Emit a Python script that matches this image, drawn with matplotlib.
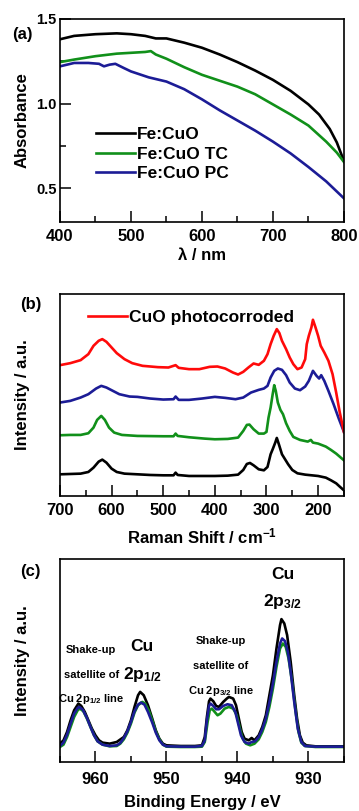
import matplotlib
matplotlib.use("Agg")
import matplotlib.pyplot as plt
from matplotlib.ticker import MultipleLocator, NullLocator

plt.rcParams['font.family'] = ['Liberation Sans', 'DejaVu Sans']
plt.rcParams['font.weight'] = 'bold'
plt.rcParams['axes.labelweight'] = 'bold'
plt.rcParams['mathtext.fontset'] = 'custom'
plt.rcParams['mathtext.rm'] = 'Liberation Sans:bold'
plt.rcParams['mathtext.it'] = 'Liberation Sans:bold'
plt.rcParams['mathtext.bf'] = 'Liberation Sans:bold'

# (a) UV-vis absorbance
wl_black = [400, 420, 450, 480, 500, 520, 535, 550, 575, 600, 625, 650, 675, 700, 725, 750, 765, 780, 790, 800]
abs_black = [1.38, 1.40, 1.41, 1.415, 1.41, 1.40, 1.385, 1.385, 1.36, 1.33, 1.29, 1.245, 1.195, 1.14, 1.075, 0.995, 0.935, 0.85, 0.77, 0.66]
wl_green = [400, 420, 450, 480, 500, 520, 528, 535, 550, 575, 600, 625, 650, 675, 700, 725, 750, 775, 790, 800]
abs_green = [1.245, 1.26, 1.28, 1.295, 1.30, 1.305, 1.31, 1.29, 1.265, 1.215, 1.17, 1.135, 1.10, 1.055, 0.995, 0.935, 0.87, 0.775, 0.71, 0.655]
wl_blue = [400, 420, 440, 455, 462, 470, 478, 490, 500, 525, 550, 575, 600, 625, 650, 675, 700, 725, 750, 775, 800]
abs_blue = [1.22, 1.24, 1.24, 1.235, 1.22, 1.23, 1.235, 1.21, 1.19, 1.155, 1.13, 1.085, 1.025, 0.96, 0.90, 0.84, 0.775, 0.705, 0.625, 0.54, 0.44]

# (b) Raman spectra (offset, arbitrary units)
ram_x_black = [700, 680, 660, 645, 635, 625, 618, 610, 600, 590, 575, 550, 525, 500, 480, 476, 472, 450, 425, 400, 375, 355, 345, 338, 332, 325, 315, 305, 298, 292, 288, 283, 280, 276, 270, 264, 258, 250, 240, 225, 200, 185, 175, 165, 158, 150]
ram_y_black = [65, 66, 67, 72, 85, 103, 109, 100, 82, 72, 67, 65, 63, 62, 62, 70, 63, 60, 60, 60, 61, 64, 78, 96, 99, 92, 80, 77, 87, 125, 140, 160, 174, 155, 125, 110, 95, 78, 68, 64, 60, 55, 47, 38, 28, 17]
ram_x_green = [700, 680, 660, 645, 635, 628, 620, 613, 605, 595, 580, 550, 500, 480, 476, 472, 450, 420, 400, 375, 355, 345, 338, 333, 325, 315, 305, 300, 296, 292, 288, 285, 282, 278, 273, 268, 262, 255, 248, 235, 220, 214, 210, 200, 185, 175, 165, 150]
ram_y_green = [182, 183, 183, 188, 205, 228, 240, 228, 205, 190, 183, 180, 179, 179, 187, 180, 176, 172, 170, 171, 175, 195, 213, 214, 200, 187, 187, 192, 235, 265, 305, 332, 315, 280, 258, 245, 218, 195, 177, 168, 163, 168, 160, 157, 148, 138, 127, 107]
ram_x_blue = [700, 680, 660, 645, 630, 620, 610, 600, 585, 565, 550, 525, 500, 480, 476, 470, 450, 425, 400, 380, 360, 345, 330, 315, 305, 298, 292, 285, 278, 270, 262, 255, 245, 235, 225, 218, 210, 203, 198, 194, 188, 180, 170, 160, 150]
ram_y_blue = [280, 285, 295, 305, 322, 330, 325, 317, 305, 298, 297, 292, 289, 290, 298, 288, 288, 292, 297, 294, 290, 295, 310, 318, 322, 330, 355, 375, 382, 378, 362, 340, 322, 317, 328, 345, 375, 360, 352, 362, 345, 315, 275, 232, 192]
ram_x_red = [700, 680, 660, 645, 635, 625, 618, 610, 600, 590, 575, 560, 540, 510, 490, 476, 470, 450, 430, 410, 395, 380, 365, 355, 345, 335, 325, 315, 305, 298, 292, 286, 280, 275, 270, 262, 255, 248, 240, 232, 225, 222, 218, 213, 210, 205, 200, 195, 188, 180, 172, 165, 158, 150]
ram_y_red = [392, 398, 407, 425, 450, 465, 470, 462, 445, 428, 410, 398, 390, 386, 385, 392, 384, 380, 380, 387, 388, 382, 370, 364, 372, 385, 397, 393, 405, 425, 455, 480, 500, 488, 465, 440, 415, 395, 380, 385, 410, 455, 480, 505, 528, 505, 480, 450, 430, 405, 365, 310, 250, 192]

# (c) XPS Cu 2p
be_black = [965, 964.5, 964, 963.5, 963, 962.4, 962, 961.5, 961, 960.5, 960, 959.5, 959, 958, 957, 956, 955.5, 955, 954.5, 954, 953.7, 953.2, 952.6, 952, 951.5, 951, 950.5, 950, 948, 946, 945, 944.6, 944.3, 944, 943.8, 943.4, 943, 942.6, 942, 941.5, 941.2, 940.6, 940.2, 939.8, 939.4, 939, 938.4, 938, 937.6, 937, 936.5, 936, 935.5, 935, 934.5, 934, 933.8, 933.4, 933, 932.5, 932, 931.6, 931.2, 930.8, 930.3, 929, 927, 925]
int_black = [55, 65, 90, 125, 155, 175, 168, 150, 125, 100, 80, 65, 58, 55, 60, 75, 95, 125, 165, 200, 210, 200, 170, 130, 95, 70, 55, 50, 48, 48, 50, 75, 135, 182, 190, 182, 168, 165, 180, 190, 195, 190, 170, 130, 90, 70, 65, 72, 65, 80, 105, 140, 200, 260, 340, 410, 428, 415, 380, 300, 200, 130, 80, 58, 50, 47, 47, 47]
be_green = [965, 964.5, 964, 963.5, 963, 962.5, 962.2, 961.7, 961.2, 960.7, 960.2, 959.7, 959, 958, 957, 956.5, 956, 955.5, 955, 954.5, 954, 953.4, 953, 952.5, 952, 951.5, 951, 950.5, 950, 948, 946, 945, 944.6, 944.2, 943.9, 943.6, 943.2, 942.8, 942.4, 941.8, 941.2, 940.6, 940.1, 939.7, 939.3, 938.8, 938.2, 937.6, 937, 936.5, 936, 935.5, 935, 934.5, 934, 933.6, 933.2, 932.8, 932.3, 931.8, 931.4, 931, 930.5, 929, 927, 925]
int_green = [45, 52, 75, 105, 135, 155, 160, 152, 130, 105, 80, 62, 52, 47, 48, 55, 68, 88, 115, 148, 170, 180, 175, 155, 125, 92, 68, 52, 46, 45, 45, 46, 60, 120, 155, 160, 150, 140, 145, 160, 165, 160, 140, 105, 72, 55, 50, 55, 68, 90, 120, 165, 220, 285, 340, 355, 345, 310, 240, 150, 90, 58, 48, 45, 45, 45]
be_blue = [965, 964.5, 964, 963.5, 963, 962.5, 962.3, 961.8, 961.2, 960.7, 960.2, 959.7, 959, 958, 957, 956.5, 956, 955.5, 955, 954.5, 954, 953.6, 953.1, 952.6, 952, 951.5, 951, 950.5, 950, 948, 946, 945, 944.6, 944.3, 944, 943.8, 943.4, 943, 942.6, 942, 941.4, 940.8, 940.3, 939.9, 939.5, 939, 938.4, 938, 937.5, 937, 936.5, 936, 935.5, 935, 934.5, 934, 933.7, 933.3, 932.9, 932.5, 932, 931.5, 931, 930.5, 929, 927, 925]
int_blue = [48, 58, 82, 115, 145, 162, 165, 157, 132, 105, 80, 62, 52, 48, 50, 57, 72, 92, 120, 152, 172, 178, 172, 150, 118, 88, 65, 52, 47, 46, 46, 48, 65, 125, 168, 175, 168, 158, 158, 168, 173, 170, 150, 115, 80, 60, 55, 60, 62, 75, 98, 130, 178, 235, 300, 355, 370, 362, 330, 270, 180, 100, 60, 48, 46, 46, 46]

c_black = 'black'
c_green = '#11901a'
c_blue = '#1c1c96'
c_red = '#ff0a0a'
lw = 1.9

fig = plt.figure(figsize=(3.59, 8.11), dpi=100)

def style(ax, xpad=5):
    for s in ax.spines.values():
        s.set_linewidth(1.2)
    ax.tick_params(which='both', direction='in', top=False, right=False, width=1.1)
    ax.tick_params(which='major', length=8)
    ax.tick_params(which='minor', length=4.5)
    ax.tick_params(axis='x', pad=xpad, labelsize=12)
    ax.tick_params(axis='y', pad=2.5, labelsize=10.5)

# ---- (a)
ax1 = fig.add_axes([0.167, 0.7263, 0.791, 0.2503])
ax1.plot(wl_black, abs_black, color=c_black, lw=lw, label='Fe:CuO')
ax1.plot(wl_green, abs_green, color=c_green, lw=lw, label='Fe:CuO TC')
ax1.plot(wl_blue, abs_blue, color=c_blue, lw=lw, label='Fe:CuO PC')
ax1.set_xlim(400, 800)
ax1.set_ylim(0.3, 1.5)
ax1.xaxis.set_major_locator(MultipleLocator(100))
ax1.xaxis.set_minor_locator(MultipleLocator(50))
ax1.yaxis.set_major_locator(MultipleLocator(0.5))
ax1.yaxis.set_minor_locator(MultipleLocator(0.25))
style(ax1)
ax1.set_xlabel('λ / nm', fontsize=12)
ax1.set_ylabel('Absorbance', fontsize=12)
ax1.xaxis.set_label_coords(0.5, -0.128)
ax1.yaxis.set_label_coords(-0.106, 0.5)
ax1.legend(loc='upper left', bbox_to_anchor=(0.072, 0.545), frameon=False,
           handlelength=2.25, handletextpad=0.1, labelspacing=0.25,
           prop={'weight': 'bold', 'size': 12.5})
fig.text(0.033, 0.957, '(a)', fontsize=12, weight='bold', va='center')

# ---- (b)
ax2 = fig.add_axes([0.167, 0.3884, 0.791, 0.249])
ax2.plot(ram_x_black, ram_y_black, color=c_black, lw=lw)
ax2.plot(ram_x_green, ram_y_green, color=c_green, lw=lw)
ax2.plot(ram_x_blue, ram_y_blue, color=c_blue, lw=lw)
ax2.plot(ram_x_red, ram_y_red, color=c_red, lw=lw, label='CuO photocorroded')
ax2.set_xlim(700, 150)
ax2.set_ylim(0, 605)
ax2.xaxis.set_major_locator(MultipleLocator(100))
ax2.xaxis.set_minor_locator(MultipleLocator(50))
ax2.yaxis.set_major_locator(NullLocator())
style(ax2)
ax2.set_xlabel('Raman Shift / cm$^{-1}$', fontsize=12)
ax2.set_ylabel('Intensity / a.u.', fontsize=12)
ax2.xaxis.set_label_coords(0.5, -0.15)
ax2.yaxis.set_label_coords(-0.106, 0.5)
ax2.legend(loc='upper left', bbox_to_anchor=(0.045, 1.0), frameon=False,
           handlelength=2.25, handletextpad=0.1,
           prop={'weight': 'bold', 'size': 12.5})
fig.text(0.055, 0.624, '(b)', fontsize=12, weight='bold', va='center')

# ---- (c)
ax3 = fig.add_axes([0.167, 0.0604, 0.791, 0.2503])
ax3.plot(be_black, int_black, color=c_black, lw=lw)
ax3.plot(be_green, int_green, color=c_green, lw=lw)
ax3.plot(be_blue, int_blue, color=c_blue, lw=lw)
ax3.set_xlim(965, 925)
ax3.set_ylim(0, 608)
ax3.xaxis.set_major_locator(MultipleLocator(10))
ax3.xaxis.set_minor_locator(MultipleLocator(5))
ax3.yaxis.set_major_locator(NullLocator())
style(ax3, xpad=7)
ax3.set_xlabel('Binding Energy / eV', fontsize=12)
ax3.set_ylabel('Intensity / a.u.', fontsize=12)
ax3.xaxis.set_label_coords(0.5, -0.163)
ax3.yaxis.set_label_coords(-0.106, 0.5)
fig.text(0.055, 0.295, '(c)', fontsize=12, weight='bold', va='center')

ax3.text(933.6, 562, 'Cu', ha='center', va='center', fontsize=12.5, weight='bold')
ax3.text(933.6, 482, '2p$_{3/2}$', ha='center', va='center', fontsize=12.5, weight='bold')
ax3.text(953.4, 345, 'Cu', ha='center', va='center', fontsize=12.5, weight='bold')
ax3.text(953.4, 262, '2p$_{1/2}$', ha='center', va='center', fontsize=12.5, weight='bold')
ax3.text(960.6, 337, 'Shake-up', ha='center', va='center', fontsize=8, weight='bold')
ax3.text(960.6, 262, 'satellite of', ha='center', va='center', fontsize=8, weight='bold')
ax3.text(960.6, 188, 'Cu 2p$_{1/2}$ line', ha='center', va='center', fontsize=8, weight='bold')
ax3.text(942.3, 362, 'Shake-up', ha='center', va='center', fontsize=8, weight='bold')
ax3.text(942.3, 287, 'satellite of', ha='center', va='center', fontsize=8, weight='bold')
ax3.text(942.3, 212, 'Cu 2p$_{3/2}$ line', ha='center', va='center', fontsize=8, weight='bold')

fig.savefig('out.png', dpi=100)
